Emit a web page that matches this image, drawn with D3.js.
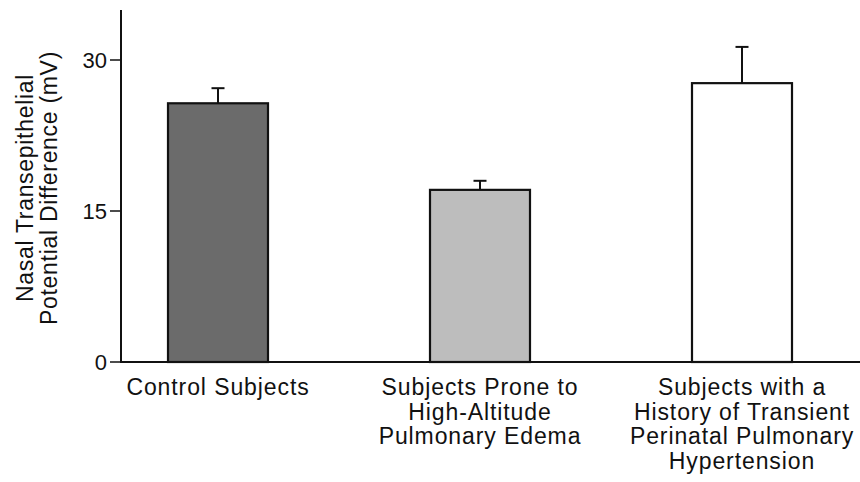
<!DOCTYPE html>
<html>
<head>
<meta charset="utf-8">
<script src="https://cdn.jsdelivr.net/npm/d3@7"></script>
<style>
body { margin: 0; background: #fff; }
text { font-family: "Liberation Sans", Arial, sans-serif; fill: #111; }
</style>
</head>
<body>
<svg id="chart" width="860" height="482"></svg>
<script>
// groups, means and upper error (mean + SD)
var groups = [
  ["Control Subjects"],
  ["Subjects Prone to", "High-Altitude", "Pulmonary Edema"],
  ["Subjects with a", "History of Transient", "Perinatal Pulmonary", "Hypertension"]
];
var means = [25.7, 17.1, 27.7];
var errTops = [27.2, 18.0, 31.3];
var fills = ["#6b6b6b", "#bdbdbd", "#ffffff"];
var yTicks = [0, 15, 30];

var svg = d3.select("#chart");
var mLeft = 121, mRight = 860, mTop = 10, mBottom = 362;

var x = d3.scalePoint().domain([0, 1, 2]).range([218, 742]);
var y = d3.scaleLinear().domain([0, 30]).range([mBottom, 60]);

// bars
svg.selectAll("rect.bar").data(means).enter().append("rect")
    .attr("class", "bar")
    .attr("x", function(d, i) { return x(i) - 50; })
    .attr("width", 100)
    .attr("y", function(d) { return y(d); })
    .attr("height", function(d) { return mBottom - y(d); })
    .attr("fill", function(d, i) { return fills[i]; })
    .attr("stroke", "#111")
    .attr("stroke-width", 2.2);

// error bars
var err = svg.selectAll("g.err").data(means).enter().append("g")
    .attr("transform", function(d, i) { return "translate(" + x(i) + ",0)"; });
err.append("line")
    .attr("y1", function(d) { return y(d); })
    .attr("y2", function(d, i) { return y(errTops[i]); })
    .attr("stroke", "#111").attr("stroke-width", 2);
err.append("line")
    .attr("x1", -6.5).attr("x2", 6.5)
    .attr("y1", function(d, i) { return y(errTops[i]); })
    .attr("y2", function(d, i) { return y(errTops[i]); })
    .attr("stroke", "#111").attr("stroke-width", 2);

// axes
svg.append("line").attr("x1", mLeft).attr("x2", mLeft).attr("y1", mTop).attr("y2", mBottom + 1)
    .attr("stroke", "#111").attr("stroke-width", 2);
svg.append("line").attr("x1", mLeft).attr("x2", mRight).attr("y1", mBottom).attr("y2", mBottom)
    .attr("stroke", "#111").attr("stroke-width", 2);

svg.selectAll("line.tick").data(yTicks).enter().append("line")
    .attr("x1", mLeft - 11).attr("x2", mLeft)
    .attr("y1", function(d) { return y(d); })
    .attr("y2", function(d) { return y(d); })
    .attr("stroke", "#111").attr("stroke-width", 1.5);

svg.selectAll("text.tick").data(yTicks).enter().append("text")
    .attr("x", mLeft - 14)
    .attr("y", function(d) { return y(d); })
    .attr("dy", "0.36em")
    .attr("text-anchor", "end")
    .style("font-size", "22px")
    .text(function(d) { return d; });

// y title
var yt = svg.append("text")
    .attr("transform", "translate(33,188) rotate(-90)")
    .attr("text-anchor", "middle")
    .style("font-size", "23px")
    .style("letter-spacing", "0.7px");
yt.append("tspan").attr("x", 0).attr("dy", 0).text("Nasal Transepithelial");
yt.append("tspan").attr("x", 0).attr("dy", 24).text("Potential Difference (mV)");

// category labels
svg.selectAll("text.cat").data(groups).enter().append("text")
    .attr("text-anchor", "middle")
    .style("font-size", "23px")
    .style("letter-spacing", "0.9px")
    .each(function(lines, i) {
        var t = d3.select(this);
        lines.forEach(function(s, j) {
            t.append("tspan")
                .attr("x", x(i))
                .attr("y", 395 + j * 24.5)
                .text(s);
        });
    });
</script>
</body>
</html>
